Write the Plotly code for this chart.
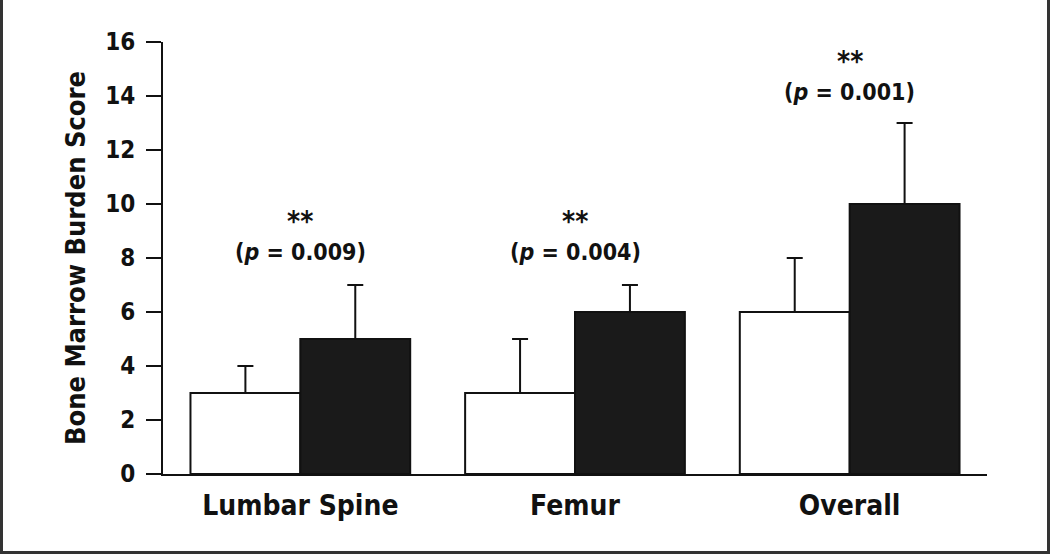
import plotly.graph_objects as go

categories = ["Lumbar Spine", "Femur", "Overall"]
white_values = [3, 3, 6]
white_err = [1, 2, 2]
black_values = [5, 6, 10]
black_err = [2, 1, 3]
p_labels = ["(<i>p</i> = 0.009)", "(<i>p</i> = 0.004)", "(<i>p</i> = 0.001)"]
star_labels = ["**", "**", "**"]
p_label_y = [8.22, 8.22, 14.13]
y_ticks = [0, 2, 4, 6, 8, 10, 12, 14, 16]

FONT = "DejaVu Sans Condensed, Liberation Sans Narrow, Arial Narrow, sans-serif"

W, H = 1050, 554
L, R, T, B = 163, 63, 42, 80
pw, ph = W - L - R, H - T - B

fig = go.Figure()
fig.add_trace(go.Bar(
    x=categories, y=white_values, name="Group A",
    marker=dict(color="white", line=dict(color="#111111", width=2)),
    error_y=dict(type="data", array=white_err, arrayminus=[0]*3, symmetric=False,
                 color="#111111", thickness=2, width=8),
))
fig.add_trace(go.Bar(
    x=categories, y=black_values, name="Group B",
    marker=dict(color="#1a1a1a", line=dict(color="#111111", width=2)),
    error_y=dict(type="data", array=black_err, arrayminus=[0]*3, symmetric=False,
                 color="#111111", thickness=2, width=8),
))

for i, cat in enumerate(categories):
    fig.add_annotation(x=cat, y=p_label_y[i], text=p_labels[i], showarrow=False,
                       xanchor="center", yanchor="middle",
                       font=dict(family=FONT, size=23, color="#111111", weight="bold"))
    fig.add_annotation(x=cat, y=p_label_y[i], text=star_labels[i], showarrow=False,
                       xanchor="center", yanchor="bottom", yshift=12,
                       font=dict(family=FONT, size=28, color="#111111", weight="bold"))

# outer frame
fig.add_shape(type="rect", xref="paper", yref="paper",
              x0=-L/pw + 1.5/pw, x1=(W - L)/pw - 1.5/pw,
              y0=-B/ph + 1.5/ph, y1=(H - T)/ph - 1.5/ph,
              line=dict(color="#333333", width=3), fillcolor="rgba(0,0,0,0)")

fig.update_layout(
    width=W, height=H,
    margin=dict(l=L, r=R, t=T, b=B, pad=0),
    paper_bgcolor="white", plot_bgcolor="white",
    barmode="group", bargap=0.2, bargroupgap=0,
    showlegend=False,
    font=dict(family=FONT, color="#111111"),
)
fig.update_xaxes(
    range=[-0.5, 2.5], showgrid=False, zeroline=False,
    showline=True, linecolor="#111111", linewidth=2,
    ticks="", tickfont=dict(family=FONT, size=28, color="#111111", weight="bold"),
    ticklabelstandoff=5,
)
fig.update_yaxes(
    range=[0, 16], tickvals=y_ticks, showgrid=False, zeroline=False,
    showline=True, linecolor="#111111", linewidth=2,
    ticks="outside", ticklen=15, tickwidth=2, tickcolor="#111111",
    tickfont=dict(family=FONT, size=24, color="#111111", weight="bold"),
    ticklabelstandoff=6,
    title=dict(text="<b>Bone Marrow Burden Score</b>",
               font=dict(family=FONT, size=27, color="#111111"), standoff=12),
)

fig.write_html("out.html", config={"displayModeBar": False},
               post_script="document.body.style.margin='0';")
